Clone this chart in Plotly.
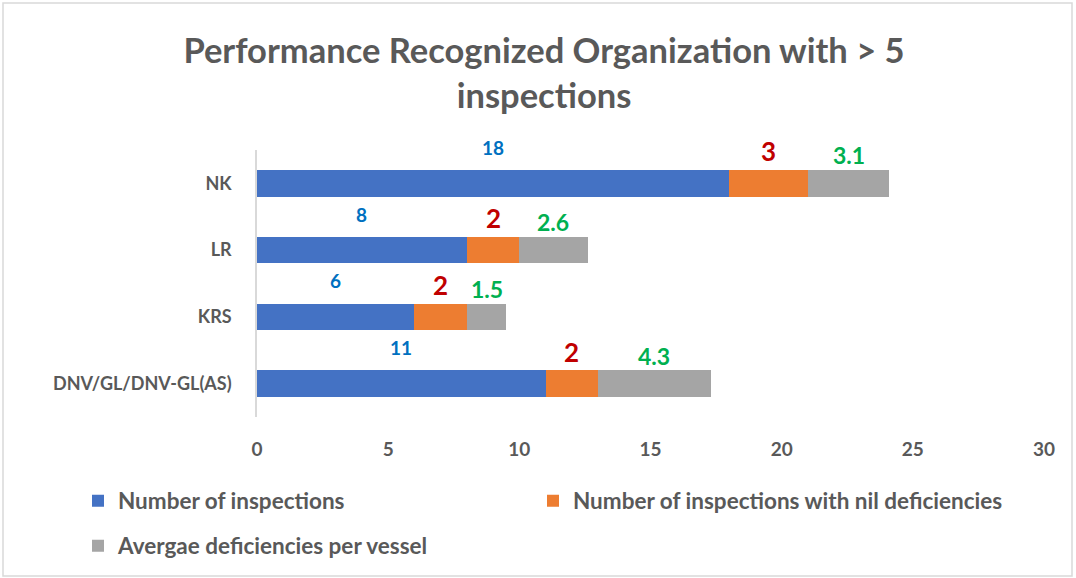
import plotly.graph_objects as go

categories = ["DNV/GL/DNV-GL(AS)", "KRS", "LR", "NK"]
inspections = [11, 6, 8, 18]
nil_deficiencies = [2, 2, 2, 3]
avg_deficiencies = [4.3, 1.5, 2.6, 3.1]
x_ticks = [0, 5, 10, 15, 20, 25, 30]

series_names = ["Number of inspections",
                "Number of inspections with nil deficiencies",
                "Avergae deficiencies per vessel"]
bar_colors = ["#4472C4", "#ED7D31", "#A5A5A5"]
label_colors = ["#0070C0", "#C00000", "#00B050"]
label_sizes = [19, 26, 23]
label_shift = [36, 32, 28]
legend_ids = ["legend", "legend3", "legend2"]

FONT = "Lato"
GREY = "#595959"

fig = go.Figure()
all_series = [inspections, nil_deficiencies, avg_deficiencies]
for name, vals, col, lg in zip(series_names, all_series, bar_colors, legend_ids):
    fig.add_trace(go.Bar(y=categories, x=vals, name=name, orientation="h",
                         marker=dict(color=col, line=dict(width=0)),
                         width=0.4, legend=lg, showlegend=True))

annotations = []
base = [0.0] * len(categories)
for s, vals in enumerate(all_series):
    for i, v in enumerate(vals):
        annotations.append(dict(
            x=base[i] + v / 2, y=categories[i], xref="x", yref="y",
            text=f"{v:g}", showarrow=False, yshift=label_shift[s],
            yanchor="middle",
            font=dict(family=FONT, size=label_sizes[s], color=label_colors[s],
                      weight="bold")))
        base[i] += v

legend_font = dict(family=FONT, size=22.5, color=GREY, weight="bold")


def legend_box(px, py):
    return dict(orientation="h", x=(px - 257) / 787, xanchor="left",
                y=(417 - py) / 267, yanchor="middle", itemwidth=30,
                font=legend_font, bgcolor="rgba(0,0,0,0)", visible=True)


fig.update_layout(
    annotations=annotations,
    barmode="stack",
    showlegend=True,
    width=1076, height=578,
    margin=dict(l=257, r=32, t=150, b=161, autoexpand=False),
    paper_bgcolor="white", plot_bgcolor="white",
    font=dict(family=FONT, color=GREY),
    title=dict(text="Performance Recognized Organization with > 5<br>inspections",
               x=544 / 1076, xanchor="center", xref="container",
               y=1 - 63 / 578, yanchor="top", yref="container",
               font=dict(family=FONT, size=34.5, color=GREY, weight="bold")),
    xaxis=dict(range=[0, 30], tickvals=x_ticks, showgrid=False, zeroline=False,
               showline=False, ticks="", ticklabelstandoff=19,
               tickfont=dict(family=FONT, size=19, color=GREY, weight="bold")),
    yaxis=dict(range=[-0.5, 3.5], autorange=False, showgrid=False, zeroline=False,
               showline=True, linecolor="#D9D9D9",
               linewidth=1.5, ticks="", ticklabelstandoff=20,
               tickfont=dict(family=FONT, size=18, color=GREY, weight="bold")),
    legend=legend_box(78, 501),
    legend3=legend_box(533, 501),
    legend2=legend_box(78, 546),
    shapes=[dict(type="rect", xref="paper", yref="paper",
                 x0=(3 - 257) / 787, x1=(1072 - 257) / 787,
                 y0=(417 - 576) / 267, y1=(417 - 3) / 267,
                 line=dict(color="#D9D9D9", width=1.5), fillcolor="rgba(0,0,0,0)",
                 layer="below")],
)
fig.write_html("out.html", config={"displayModeBar": False},
               post_script="document.body.style.margin='0';document.body.style.overflow='hidden';")
